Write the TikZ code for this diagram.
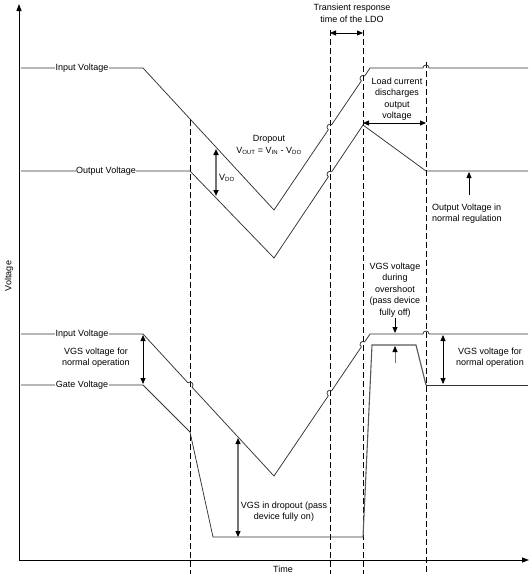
\documentclass[tikz,border=0pt]{standalone}
\usepackage{fontspec}
\setmainfont{Liberation Sans}
\usetikzlibrary{arrows.meta,calc}

\begin{document}
\begin{tikzpicture}[x=1pt,y=-1pt,
  every node/.style={font=\fontsize{9}{11.5}\selectfont, inner sep=1pt},
  curve/.style={draw=black!80, line width=0.75pt},
  guide/.style={draw=black, line width=0.8pt, dash pattern=on 6pt off 3pt},
  axis/.style={draw=black, line width=1pt, -{Triangle[length=7pt,width=5pt]}},
  dim/.style={line width=0.8pt, {Triangle[length=6pt,width=5pt]}-{Triangle[length=6pt,width=5pt]}},
  pointer/.style={line width=0.8pt, -{Triangle[length=6pt,width=5pt]}},
  hop/.style n args={3}{insert path={-- ($(#2)!3pt!(#1)$) to[bend left=90,looseness=1.7] ($(#2)!3pt!(#3)$)}},
  tag/.style={fill=white, inner sep=0.5pt}]
\useasboundingbox (0,0) rectangle (530,581);

% axes
\coordinate (o) at (19,560);
\draw[axis] (o) -- (19,4);
\draw[axis] (o) -- (529,560);
\node[rotate=90] (vaxis) at (9,276) {Voltage};
\node (taxis) at (283,569) {Time};

% time markers
\foreach \x/\y in {190/120, 330/30, 363/30, 426/62}
  \draw[guide] (\x,\y) -- (\x,574);

% input voltage (top)
\coordinate (ia) at (21,68);
\coordinate (ib) at (143,68);
\coordinate (ic) at (274,210);
\coordinate (id) at (370,68);
\coordinate (ie) at (528,68);
\coordinate (ix1) at (330,127.2);
\coordinate (ix2) at (363,78.4);
\coordinate (ix3) at (426,68);
\draw[curve] (ia) -- (ib) -- (ic) [hop={ic}{ix1}{id}] [hop={ic}{ix2}{id}] -- (id)
  [hop={id}{ix3}{ie}] -- (ie);

% output voltage
\coordinate (oa) at (21,171);
\coordinate (ob) at (190,171);
\coordinate (oc) at (274,258);
\coordinate (od) at (363,125);
\coordinate (oe) at (426,171);
\coordinate (of) at (528,171);
\coordinate (ox1) at (330,174.3);
\draw[curve] (oa) -- (ob) -- (oc) [hop={oc}{ox1}{od}] -- (od) -- (oe) -- (of);

% input voltage (bottom)
\coordinate (ja) at (21,334);
\coordinate (jb) at (143,334);
\coordinate (jc) at (274,476);
\coordinate (jd) at (370,334);
\coordinate (je) at (528,334);
\coordinate (jx0) at (190,385);
\coordinate (jx1) at (330,393.2);
\coordinate (jx2) at (363,344.4);
\coordinate (jx3) at (426,334);
\draw[curve] (ja) -- (jb) [hop={jb}{jx0}{jc}] -- (jc) [hop={jc}{jx1}{jd}] [hop={jc}{jx2}{jd}]
  -- (jd) [hop={jd}{jx3}{je}] -- (je);

% gate voltage
\coordinate (ga) at (21,385);
\coordinate (gb) at (143,385);
\coordinate (gc) at (190,432);
\coordinate (gd) at (213,537);
\coordinate (ge) at (363,537);
\coordinate (gf) at (372,345);
\coordinate (gg) at (416,345);
\coordinate (gh) at (426,385);
\coordinate (gi) at (528,385);
\draw[curve] (ga) -- (gb) -- (gc) -- (gd) -- (ge);
\draw[curve, draw=black!65, line width=1.1pt] (ge) -- (gf) -- (gg) -- (gh);
\draw[curve] (gh) -- (gi);

% line names
\node[tag] (nin) at (82,68) {Input Voltage};
\node[tag] (nout) at (106,171) {Output Voltage};
\node[tag] (nin2) at (82,334) {Input Voltage};
\node[tag] (ngate) at (82,385) {Gate Voltage};

% annotations
\node[align=center] (trans) at (352,13.5) {Transient response\\time of the LDO};
\draw[dim] (330,33) -- (363,33);
\node[align=center] (load) at (397,99) {Load current\\discharges\\output\\voltage};
\draw[dim] (363,123) -- (426,123);
\node[align=center] (drop) at (269,145) {Dropout\\V\textsubscript{OUT} = V\textsubscript{IN} - V\textsubscript{DO}};
\draw[dim, draw=black!55, line width=1.6pt, {Triangle[length=6pt,width=5pt,color=black]}-{Triangle[length=6pt,width=5pt,color=black]}] (216,149) -- (216,196);
\node[anchor=west] (vdo) at (218,178) {V\textsubscript{DO}};
\node[align=left, anchor=west] (reg) at (431,213.5) {Output Voltage in\\normal regulation};
\draw[pointer] (469,195) -- (469,172);
\node[align=center] (over) at (395,290) {VGS voltage\\during\\overshoot\\(pass device\\fully off)};
\draw[pointer] (395,318) -- (395,333);
\draw[pointer, draw=black!55, -{Triangle[length=6pt,width=5pt,color=black]}] (395,363) -- (395,346);
\node[align=center] (vgsl) at (96,357.5) {VGS voltage for\\normal operation};
\draw[dim] (143,335) -- (143,384);
\node[align=center] (vgsr) at (490,357.5) {VGS voltage for\\normal operation};
\draw[dim] (443,335) -- (443,384);
\node[align=center] (vgsd) at (284,511.5) {VGS in dropout (pass\\device fully on)};
\draw[dim, draw=black!55, line width=1.2pt, {Triangle[length=6pt,width=5pt,color=black]}-{Triangle[length=6pt,width=5pt,color=black]}] (238,438) -- (238,537);
\end{tikzpicture}
\end{document}
